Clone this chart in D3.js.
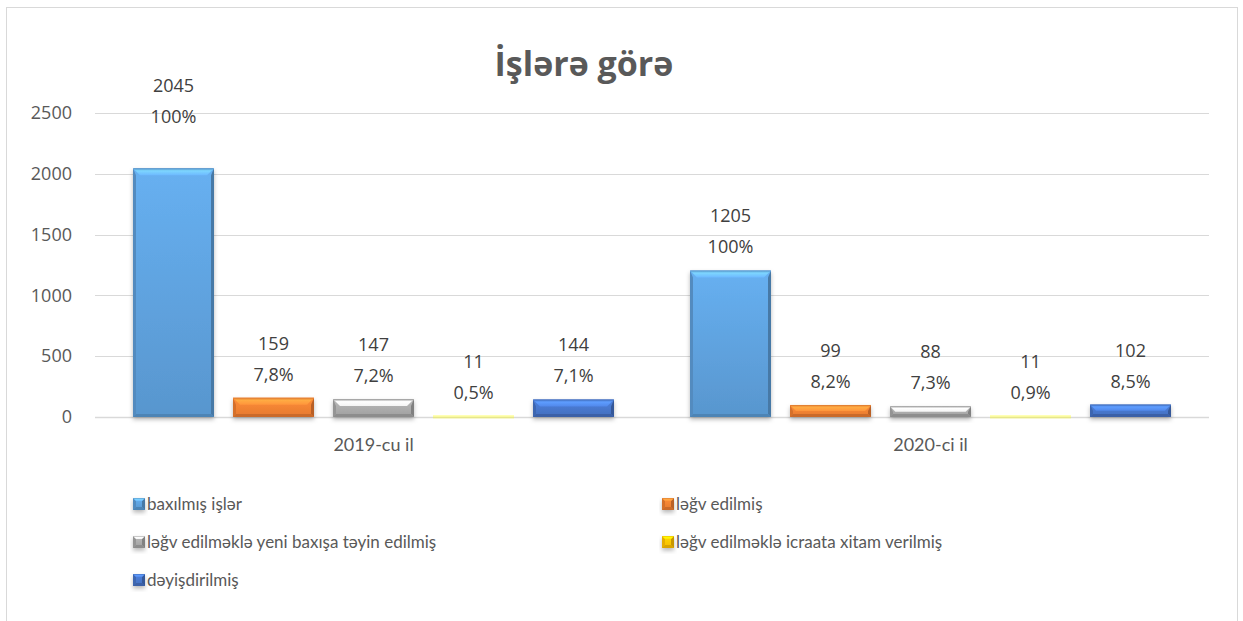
<!DOCTYPE html>
<html>
<head>
<meta charset="utf-8">
<script src="https://cdn.jsdelivr.net/npm/d3@7"></script>
<style>
  html, body { margin: 0; padding: 0; background: #fff; }
  svg { display: block; font-family: "Open Sans", sans-serif; }
</style>
</head>
<body>
<svg id="chart" width="1243" height="621"></svg>
<script>
// chart data
const categories = ["2019-cu il", "2020-ci il"];
const seriesNames = [
  "baxılmış işlər",
  "ləğv edilmiş",
  "ləğv edilməklə yeni baxışa təyin edilmiş",
  "ləğv edilməklə icraata xitam verilmiş",
  "dəyişdirilmiş",
];
const values2019 = [2045, 159, 147, 11, 144];
const values2020 = [1205, 99, 88, 11, 102];
const percents2019 = ["100%", "7,8%", "7,2%", "0,5%", "7,1%"];
const percents2020 = ["100%", "8,2%", "7,3%", "0,9%", "8,5%"];
const yTicks = [0, 500, 1000, 1500, 2000, 2500];

const seriesColors = ["#5B9BD5", "#ED7D31", "#A5A5A5", "#FFC000", "#4472C4"];

const svg = d3.select("#chart");
const plot = { left: 95, right: 1209, top: 113, bottom: 417 };

// outer frame
svg.append("rect")
  .attr("x", 6.5).attr("y", 7.5)
  .attr("width", 1231).attr("height", 640)
  .attr("fill", "#fff")
  .attr("stroke", "#d9d9d9")
  .attr("stroke-width", 1);

const defs = svg.append("defs");
const shadow = defs.append("filter")
  .attr("id", "shadow")
  .attr("x", "-20%").attr("y", "-50%")
  .attr("width", "140%").attr("height", "200%");
shadow.append("feDropShadow")
  .attr("dx", 0).attr("dy", 2.5)
  .attr("stdDeviation", 2)
  .attr("flood-color", "#000")
  .attr("flood-opacity", 0.28);

// per-series gradients for bar body and top bevel
seriesColors.forEach((c, i) => {
  const base = d3.color(c);
  const body = defs.append("linearGradient")
    .attr("id", "body" + i)
    .attr("x1", 0).attr("y1", 0).attr("x2", 0).attr("y2", 1);
  body.append("stop").attr("offset", "0%").attr("stop-color", base.brighter(0.35));
  body.append("stop").attr("offset", "100%").attr("stop-color", base.darker(0.1));

  const top = defs.append("linearGradient")
    .attr("id", "top" + i)
    .attr("x1", 0).attr("y1", 0).attr("x2", 0).attr("y2", 1);
  top.append("stop").attr("offset", "0%").attr("stop-color", base.darker(0.25));
  top.append("stop").attr("offset", "35%").attr("stop-color", i === 2 ? "#fff" : base.brighter(0.9));
  top.append("stop").attr("offset", "100%").attr("stop-color", i === 2 ? "#f4f4f4" : base.brighter(0.5));
});

// scales
const y = d3.scaleLinear().domain([0, 2500]).range([plot.bottom, plot.top]);
const x0 = d3.scaleBand().domain(categories).range([plot.left, plot.right]);
const x1 = d3.scaleBand()
  .domain(seriesNames)
  .range([38, x0.bandwidth() - 38])
  .paddingInner(0.19);

// gridlines
svg.append("g")
  .selectAll("line")
  .data(yTicks)
  .enter()
  .append("line")
  .attr("x1", plot.left).attr("x2", plot.right)
  .attr("y1", (d) => Math.round(y(d)) + 0.5)
  .attr("y2", (d) => Math.round(y(d)) + 0.5)
  .attr("stroke", "#d9d9d9")
  .attr("stroke-width", (d) => (d === 0 ? 1.6 : 1));

// y axis labels
const yAxis = svg.append("g")
  .attr("transform", `translate(${plot.left - 23},0)`)
  .call(d3.axisLeft(y).tickValues(yTicks).tickFormat(d3.format("d")).tickSize(0).tickPadding(0));
yAxis.select(".domain").remove();
yAxis.selectAll("text")
  .attr("fill", "#595959")
  .style("font-size", "18px")
  .style("font-family", "'Open Sans', sans-serif");

// x axis labels
const xAxis = svg.append("g")
  .attr("transform", `translate(0,${plot.bottom + 21})`)
  .call(d3.axisBottom(x0).tickSize(0).tickPadding(0));
xAxis.select(".domain").remove();
xAxis.selectAll("text")
  .attr("fill", "#595959")
  .style("font-size", "18px")
  .style("font-family", "Lato, sans-serif");

// beveled bar
function drawBar(g, x, yTop, w, h, i, bevel) {
  const base = d3.color(seriesColors[i]);
  const grp = g.append("g").attr("filter", "url(#shadow)");
  if (h < 4) {
    // very short bar: only a pale sliver shows
    grp.attr("filter", null)
      .append("rect")
      .attr("x", x).attr("y", yTop - 0.5)
      .attr("width", w).attr("height", h + 2)
      .attr("fill", base.brighter(1.6))
      .attr("opacity", 0.35);
    return;
  }
  const b = Math.min(bevel, h / 2);
  const s = Math.min(3, h / 2, w / 2);
  grp.append("rect")
    .attr("x", x).attr("y", yTop)
    .attr("width", w).attr("height", h)
    .attr("fill", `url(#body${i})`);
  // right edge
  grp.append("path")
    .attr("d", `M${x + w},${yTop}L${x + w},${yTop + h}L${x + w - s},${yTop + h - s}L${x + w - s},${yTop + b}Z`)
    .attr("fill", base.darker(0.7));
  // left edge
  grp.append("path")
    .attr("d", `M${x},${yTop}L${x},${yTop + h}L${x + s},${yTop + h - s}L${x + s},${yTop + b}Z`)
    .attr("fill", base.darker(0.3));
  // bottom edge
  grp.append("path")
    .attr("d", `M${x},${yTop + h}L${x + w},${yTop + h}L${x + w - s},${yTop + h - s}L${x + s},${yTop + h - s}Z`)
    .attr("fill", base.darker(0.45));
  // top bevel
  grp.append("path")
    .attr("d", `M${x},${yTop}L${x + w},${yTop}L${x + w - b},${yTop + b}L${x + b},${yTop + b}Z`)
    .attr("fill", `url(#top${i})`);
}

const groupData = [
  { cat: categories[0], values: values2019, percents: percents2019 },
  { cat: categories[1], values: values2020, percents: percents2020 },
];

// label nudges (px), keyed "group-series"
const LABEL_NUDGE = { "0-0": -28 };

const bars = svg.append("g").attr("class", "bars");
const labels = svg.append("g").attr("class", "labels")
  .attr("fill", "#404040")
  .attr("text-anchor", "middle")
  .style("font-size", "18px");

groupData.forEach((gd, gi) => {
  gd.values.forEach((v, si) => {
    const bx = x0(gd.cat) + x1(seriesNames[si]);
    const bw = x1.bandwidth();
    const yTop = y(v);
    const h = y(0) - y(v);
    drawBar(bars, bx, yTop, bw, h, si, 7);

    const pBase = yTop - 17 + (LABEL_NUDGE[`${gi}-${si}`] || 0);
    labels.append("text")
      .attr("x", bx + bw / 2)
      .attr("y", pBase - 31)
      .text(v);
    labels.append("text")
      .attr("x", bx + bw / 2)
      .attr("y", pBase)
      .text(gd.percents[si]);
  });
});

// title
svg.append("text")
  .attr("x", 584)
  .attr("y", 76)
  .attr("text-anchor", "middle")
  .attr("fill", "#595959")
  .style("font-size", "34px")
  .style("font-weight", "bold")
  .text("İşlərə görə");

// legend
const legendPos = [
  { x: 133, y: 504 },
  { x: 662, y: 504 },
  { x: 133, y: 542 },
  { x: 662, y: 542 },
  { x: 133, y: 580 },
];
const legend = svg.append("g").attr("class", "legend");
seriesNames.forEach((name, i) => {
  const p = legendPos[i];
  drawBar(legend, p.x, p.y - 6, 12, 12, i, 3);
  legend.append("text")
    .attr("x", p.x + 14)
    .attr("y", p.y)
    .attr("dy", "0.35em")
    .attr("fill", "#595959")
    .style("font-size", "17px")
    .style("font-family", "Lato, sans-serif")
    .text(name);
});
</script>
</body>
</html>
